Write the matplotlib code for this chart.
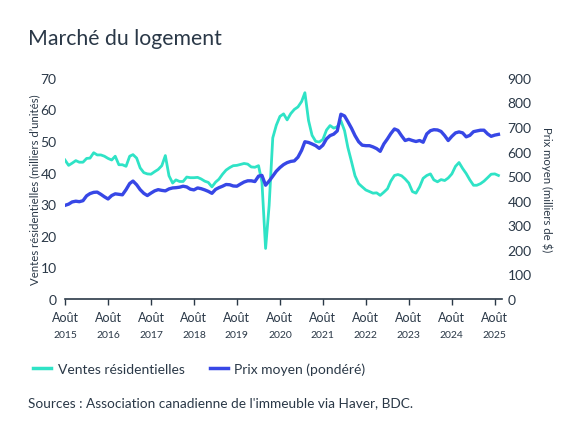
import numpy as np
import pandas as pd
import matplotlib
matplotlib.use("Agg")
import matplotlib.pyplot as plt
import matplotlib.transforms as mtransforms
from matplotlib.lines import Line2D

# ---- data (monthly, Aug 2015 -> Sep 2025) ----
ventes = [
    44.0, 42.3, 43.0, 43.8, 43.3, 43.3, 44.5, 44.6, 46.3, 45.6, 45.6, 45.2,
    44.5, 44.0, 45.2, 42.5, 42.5, 42.0, 45.2, 45.7, 44.6, 41.5, 40.0, 39.6,
    39.5, 40.3, 41.0, 42.2, 45.4, 39.0, 36.7, 37.7, 37.2, 37.2, 38.6, 38.4,
    38.4, 38.5, 38.0, 37.3, 36.9, 35.5, 37.0, 37.9, 39.5, 40.8, 41.6, 42.2,
    42.3, 42.6, 42.9, 42.7, 41.8, 41.7, 42.2, 37.0, 16.0, 29.6, 51.0, 55.0,
    57.8, 58.6, 56.7, 58.7, 60.0, 60.8, 62.5, 65.3, 56.5, 51.8, 49.9, 49.7,
    50.5, 53.5, 54.9, 54.1, 54.5, 56.4, 53.3, 48.0, 43.5, 39.0, 36.5, 35.5,
    34.5, 34.0, 33.5, 33.6, 32.8, 33.8, 34.9, 37.3, 39.1, 39.4, 39.0, 38.0,
    36.7, 34.0, 33.5, 35.5, 38.2, 39.1, 39.6, 37.7, 37.1, 37.8, 37.5, 38.3,
    39.6, 42.0, 43.2, 41.3, 39.7, 37.7, 36.0, 36.0, 36.5, 37.3, 38.4, 39.5,
    39.6, 39.1,
]
prix = [
    381, 386, 395, 398, 396, 400, 420, 429, 434, 435, 426, 416,
    407, 421, 428, 426, 424, 445, 470, 480, 465, 445, 430, 421,
    431, 440, 445, 442, 440, 448, 452, 453, 455, 459, 456, 447,
    444, 452, 449, 444, 438, 430, 446, 453, 459, 466, 465, 460,
    459, 468, 476, 481, 481, 478, 500, 503, 463, 480, 500, 520,
    535, 547, 555, 560, 562, 577, 605, 640, 637, 631, 624, 613,
    626, 652, 665, 671, 684, 752, 745, 722, 695, 665, 640, 626,
    624, 624, 619, 612, 601, 631, 652, 673, 692, 686, 664, 645,
    650, 645, 641, 645, 638, 672, 685, 689, 688, 682, 665, 645,
    662, 676, 680, 676, 660, 666, 681, 684, 687, 687, 672, 662,
    667, 670,
]
dates = pd.date_range("2015-08-01", periods=len(ventes), freq="MS")
tick_years = list(range(2015, 2026))
left_ticks = [0, 10, 20, 30, 40, 50, 60, 70]
right_ticks = [0, 100, 200, 300, 400, 500, 600, 700, 800, 900]

TEAL = "#2fe3c6"
BLUE = "#3747e6"
TXT = "#2a3847"

plt.rcParams["font.family"] = ["Lato", "DejaVu Sans"]

fig = plt.figure(figsize=(5.75, 4.31), dpi=100)
ax = fig.add_axes([0.113, 0.304, 0.76, 0.513])
ax2 = ax.twinx()

ax.plot(dates, ventes, color=TEAL, lw=2.0, solid_joinstyle="round", zorder=3)
ax2.plot(dates, prix, color=BLUE, lw=2.4, solid_joinstyle="round", zorder=3)

ax.set_ylim(0, 70)
ax2.set_ylim(0, 900)
ax.set_xlim(pd.Timestamp("2015-08-01"), pd.Timestamp("2025-10-01"))

ax.set_yticks(left_ticks)
ax2.set_yticks(right_ticks)
ax.tick_params(axis="y", length=0, labelsize=10, labelcolor=TXT, pad=6)
ax2.tick_params(axis="y", length=0, labelsize=10, labelcolor=TXT, pad=4)

xt = [pd.Timestamp(f"{y}-08-01") for y in tick_years]
ax.set_xticks(xt)
ax.set_xticklabels(["Août"] * len(xt))
ax.tick_params(axis="x", length=4, width=1, color=TXT, labelsize=9, labelcolor=TXT, pad=5)
trans = mtransforms.blended_transform_factory(ax.transData, ax.transAxes)
for d, y in zip(xt, tick_years):
    ax.text(d, -0.14, str(y), transform=trans, ha="center", va="top",
            fontsize=7.5, color=TXT)

for a in (ax, ax2):
    for s in ("top", "left", "right"):
        a.spines[s].set_visible(False)
ax2.spines["bottom"].set_visible(False)
ax.spines["bottom"].set_color(TXT)
ax.spines["bottom"].set_linewidth(1.2)

ax.set_ylabel("Ventes résidentielles (milliers d’unités)", fontsize=8.2, color=TXT, labelpad=0)
ax2.set_ylabel("Prix moyen (milliers de $)", fontsize=8.2, color=TXT, rotation=270, labelpad=15)

fig.text(0.049, 0.91, "Marché du logement", fontsize=15.3, color=TXT, va="center")

handles = [Line2D([], [], color=TEAL, lw=2.5), Line2D([], [], color=BLUE, lw=2.5)]
fig.legend(handles, ["Ventes résidentielles", "Prix moyen (pondéré)"],
           loc="center left", bbox_to_anchor=(0.035, 0.142), ncol=2, frameon=False,
           fontsize=10, handlelength=1.3, handletextpad=0.5, columnspacing=1.8,
           labelcolor=TXT)
fig.text(0.049, 0.065, "Sources : Association canadienne de l'immeuble via Haver, BDC.",
         fontsize=9.8, color=TXT, va="center")

fig.savefig("out.png", dpi=100)
